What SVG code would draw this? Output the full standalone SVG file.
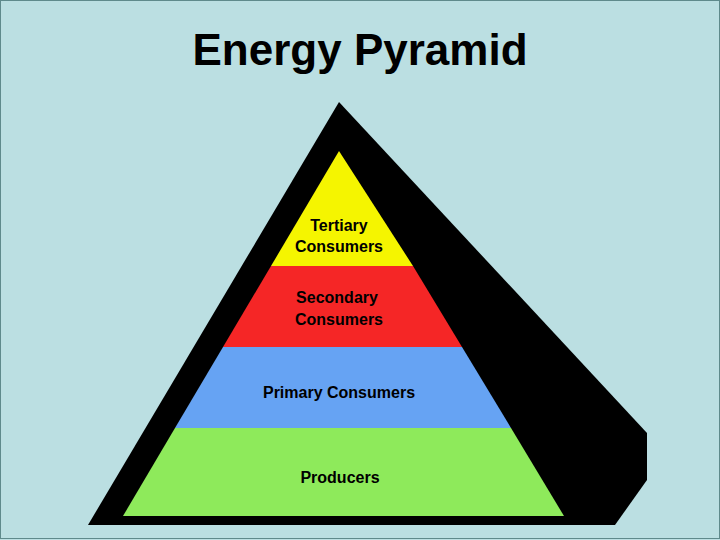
<svg xmlns="http://www.w3.org/2000/svg" width="720" height="540" viewBox="0 0 720 540">
<style>
.t{font-family:"Liberation Sans",Arial,sans-serif;font-weight:bold;font-size:16px;fill:#000;text-anchor:middle}
</style>
<rect x="0" y="0" width="720" height="540" fill="#bbdfe2"/>
<rect x="0.5" y="0.5" width="719" height="538" fill="none" stroke="#5f8a8c" stroke-width="1"/>
<text x="360" y="65" style="font-family:'Liberation Sans',Arial,sans-serif;font-weight:bold;font-size:44px;text-anchor:middle">Energy Pyramid</text>
<g id="shadow"><polygon points="339,102 647,433 647,480 615,525 88,525" fill="#000"/></g>
<g id="producers"><polygon points="175,428 511,428 564,516 123,516" fill="#8eea5b"/><text class="t" x="340" y="483">Producers</text></g>
<g id="primary"><polygon points="223,347 462,347 511,428 175,428" fill="#66a3f3"/><text class="t" x="339" y="398">Primary Consumers</text></g>
<g id="secondary"><polygon points="271,266 413,266 462,347 223,347" fill="#f52626"/><text class="t" x="337" y="303">Secondary </text><text class="t" x="339" y="325">Consumers</text></g>
<g id="tertiary"><polygon points="339,151 413,266 271,266" fill="#f5f500"/><text class="t" x="339" y="231">Tertiary</text><text class="t" x="339" y="252">Consumers</text></g>
<g id="connectors"/>
</svg>
